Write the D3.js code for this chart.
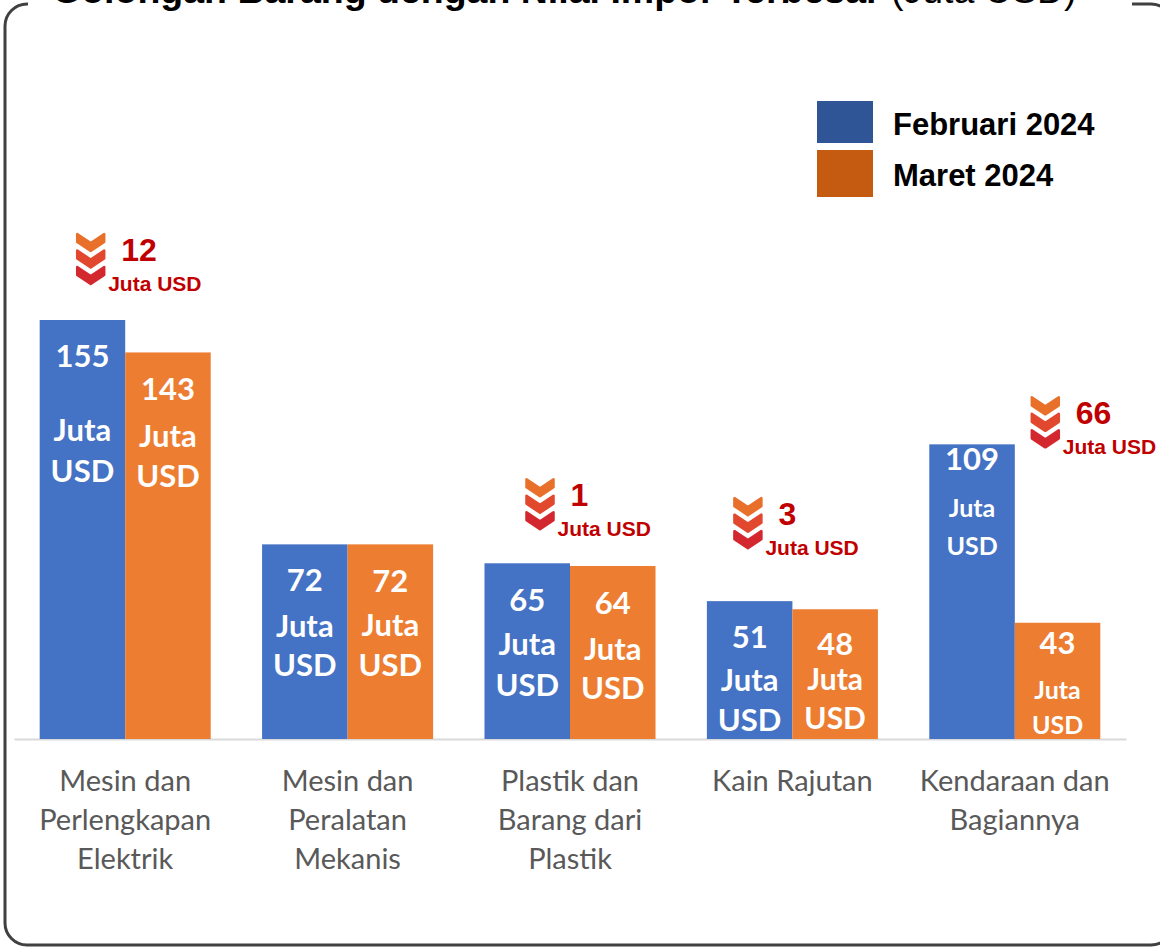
<!DOCTYPE html>
<html>
<head>
<meta charset="utf-8">
<script src="https://cdn.jsdelivr.net/npm/d3@7"></script>
<style>
  html, body { margin: 0; padding: 0; background: #ffffff; }
  svg { display: block; }
</style>
</head>
<body>
<svg id="chart" width="1160" height="947"></svg>
<script>
// ---- data ----
const categories = [
  ["Mesin dan", "Perlengkapan", "Elektrik"],
  ["Mesin dan", "Peralatan", "Mekanis"],
  ["Plastik dan", "Barang dari", "Plastik"],
  ["Kain Rajutan"],
  ["Kendaraan dan", "Bagiannya"]
];
const seriesNames = ["Februari 2024", "Maret 2024"];
const feb2024 = [155, 72, 65, 51, 109];
const mar2024 = [143, 72, 64, 48, 43];
const unitText = ["Juta", "USD"];
const titleMain = "Golongan Barang dengan Nilai Impor Terbesar";
const titleUnit = " (Juta USD)";

// ---- styling / layout ----
const barColors = ["#4472C4", "#ED7D31"];
const legendColors = ["#2F5597", "#C55A11"];
const noteRed = "#C00000";
const chevronColors = ["#E8702B", "#E1482E", "#D3282F"];
const baseY = 739;

// in-bar label offsets below the bar top: [number, "Juta", "USD", unit font size]
const inBarLayout = [
  [[47, 121, 162, 31], [48, 95, 135, 31]],
  [[47, 93, 132, 31], [48, 92, 132, 31]],
  [[48, 92, 133, 31], [48, 94, 133, 31]],
  [[47, 90, 130, 31], [46, 81, 120, 30]],
  [[26, 73, 111, 25], [31, 76, 111, 25]]
];
// decrease-note anchor: offset from group centre and from the Februari bar top
const notePlacement = [
  [-48, -87], null, [-43.5, -85], [-58, -104], [17, -48]
];

const svg = d3.select("#chart");

const idx = d3.range(categories.length);
const x0 = d3.scaleBand().domain(idx).range([14, 1126])
  .paddingInner(0.231).paddingOuter(0.1155);
const x1 = d3.scaleBand().domain([0, 1]).range([0, x0.bandwidth()]);
const y = d3.scaleLinear().domain([0, d3.max(feb2024.concat(mar2024))]).range([baseY, 320]);

// ---- frame with a gap for the title ----
const fx0 = 5, fy0 = 4, fx1 = 1173, fy1 = 945, r = 22;
const frame = d3.path();
frame.moveTo(28, fy0);
frame.lineTo(fx0 + r, fy0);
frame.arcTo(fx0, fy0, fx0, fy0 + r, r);
frame.lineTo(fx0, fy1 - r);
frame.arcTo(fx0, fy1, fx0 + r, fy1, r);
frame.lineTo(fx1 - r, fy1);
frame.arcTo(fx1, fy1, fx1, fy1 - r, r);
frame.lineTo(fx1, fy0 + r);
frame.arcTo(fx1, fy0, fx1 - r, fy0, r);
frame.lineTo(1132, fy0);
svg.append("path").attr("d", frame.toString())
  .attr("fill", "none").attr("stroke", "#404040").attr("stroke-width", 3);

// ---- title ----
const title = svg.append("text")
  .attr("x", 52).attr("y", 3)
  .attr("font-family", "'Liberation Sans', Arial, sans-serif")
  .attr("font-size", 37.5).attr("fill", "#000");
title.append("tspan").attr("font-weight", "bold").text(titleMain);
title.append("tspan").attr("font-weight", "normal").text(titleUnit);

// ---- axis ----
const axis = svg.append("g")
  .attr("transform", `translate(0,${baseY})`)
  .call(d3.axisBottom(x0).tickSize(0).tickFormat(""));
axis.select(".domain").attr("stroke", "#D9D9D9").attr("stroke-width", 2);
axis.selectAll(".tick text").remove();

// category labels
const catG = svg.append("g");
idx.forEach(i => {
  const cx = x0(i) + x0.bandwidth() / 2;
  const t = catG.append("text")
    .attr("x", cx).attr("y", 791)
    .attr("text-anchor", "middle")
    .attr("font-family", "Lato, 'Open Sans', sans-serif")
    .attr("font-size", 29).attr("fill", "#595959");
  categories[i].forEach((line, k) => {
    t.append("tspan").attr("x", cx).attr("dy", k === 0 ? 0 : 39).text(line);
  });
});

// ---- bars ----
const series = [feb2024, mar2024];
const groups = svg.append("g").selectAll("g")
  .data(idx).join("g")
  .attr("transform", i => `translate(${x0(i)},0)`);

groups.selectAll("rect")
  .data(i => series.map((s, k) => ({ k, i, v: s[i] })))
  .join("rect")
  .attr("x", d => x1(d.k))
  .attr("y", d => y(d.v))
  .attr("width", x1.bandwidth())
  .attr("height", d => baseY - y(d.v))
  .attr("fill", d => barColors[d.k]);

// in-bar value labels
groups.each(function (i) {
  const g = d3.select(this);
  series.forEach((s, k) => {
    const v = s[i];
    const cx = x1(k) + x1.bandwidth() / 2;
    const top = y(v);
    const L = inBarLayout[i][k];
    const t = g.append("g")
      .attr("font-family", "Lato, 'Open Sans', sans-serif")
      .attr("font-weight", "bold").attr("fill", "#ffffff")
      .attr("text-anchor", "middle");
    t.append("text").attr("x", cx).attr("y", top + L[0]).attr("font-size", 31).text(v);
    t.append("text").attr("x", cx).attr("y", top + L[1]).attr("font-size", L[3]).text(unitText[0]);
    t.append("text").attr("x", cx).attr("y", top + L[2]).attr("font-size", L[3]).text(unitText[1]);
  });
});

// ---- decrease notes ----
function chevron(g, x, yTop, color) {
  const w = 27, h = 17, t = 8;
  g.append("path")
    .attr("d", `M${x},${yTop} L${x + w / 2},${yTop + h - t} L${x + w},${yTop} L${x + w},${yTop + t} L${x + w / 2},${yTop + h} L${x},${yTop + t} Z`)
    .attr("fill", color).attr("stroke", color)
    .attr("stroke-width", 2.5).attr("stroke-linejoin", "round");
}
const notes = svg.append("g");
idx.forEach(i => {
  const diff = feb2024[i] - mar2024[i];
  const p = notePlacement[i];
  if (diff <= 0 || !p) return;
  const nx = x0(i) + x0.bandwidth() / 2 + p[0];
  const ny = y(feb2024[i]) + p[1];
  const g = notes.append("g");
  chevronColors.forEach((c, k) => chevron(g, nx, ny + 1 + k * 16.5, c));
  g.append("text").attr("x", nx + 44).attr("y", ny + 28)
    .attr("font-family", "'Liberation Sans', Arial, sans-serif")
    .attr("font-weight", "bold").attr("font-size", 32).attr("fill", noteRed)
    .text(diff);
  g.append("text").attr("x", nx + 31).attr("y", ny + 58)
    .attr("font-family", "'Liberation Sans', Arial, sans-serif")
    .attr("font-weight", "bold").attr("font-size", 21).attr("fill", noteRed)
    .text(unitText.join(" "));
});

// ---- legend ----
const legend = svg.append("g").attr("transform", "translate(817,101)");
seriesNames.forEach((name, k) => {
  legend.append("rect")
    .attr("x", 0).attr("y", k === 0 ? 0 : 49)
    .attr("width", 56).attr("height", k === 0 ? 42 : 47)
    .attr("fill", legendColors[k]);
  legend.append("text")
    .attr("x", 76).attr("y", k === 0 ? 34 : 85)
    .attr("font-family", "'Liberation Sans', Arial, sans-serif")
    .attr("font-weight", "bold").attr("font-size", 31).attr("fill", "#000")
    .text(name);
});
</script>
</body>
</html>
